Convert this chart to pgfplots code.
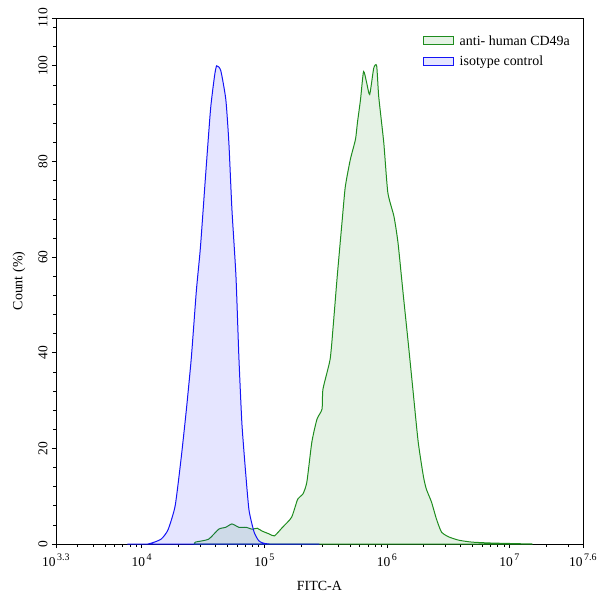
\documentclass[border=0pt]{standalone}
\usepackage{pgfplots}
\pgfplotsset{compat=1.18}
\usepackage{fontspec}
\setmainfont{Liberation Serif}
\definecolor{cgreen}{RGB}{30,140,30}
\definecolor{cblue}{RGB}{20,20,245}
\newcommand{\tp}[1]{10\kern1.5pt\raisebox{0.5em}{\fontsize{10}{10}\selectfont #1}}
\begin{document}
\begin{tikzpicture}
\begin{axis}[
  scale only axis,
  width=528pt, height=527pt,
  xmode=log, log basis x=10,
  xmin=1995.262, xmax=39810717,
  ymin=0, ymax=110,
  xtick={1995.262,1e4,1e5,1e6,1e7,39810717},
  xticklabels={\tp{3.3},\tp{4},\tp{5},\tp{6},\tp{7},\tp{7.6}},
  minor xtick={3000,4000,5000,6000,7000,8000,9000,20000,30000,40000,50000,60000,70000,80000,90000,200000,300000,400000,500000,600000,700000,800000,900000,2e6,3e6,4e6,5e6,6e6,7e6,8e6,9e6,2e7,3e7},
  ytick={0,20,40,60,80,100,110},
  minor ytick={4,8,12,16,24,28,32,36,44,48,52,56,64,68,72,76,84,88,92,96,104,108},
  tick align=outside,
  tick pos=left,
  major tick length=4pt,
  minor tick length=2.5pt,
  tick style={black, line width=0.6pt},
  axis line style={line width=0.8pt},
  /pgf/number format/assume math mode=true,
  ticklabel style={font=\fontsize{13.5}{15}\selectfont},
  yticklabel style={rotate=90, anchor=south, yshift=1pt},
  xticklabel style={yshift=-2pt, anchor=north},
  xlabel={FITC-A}, ylabel={Count (\%)},
  label style={font=\fontsize{14}{16}\selectfont},
  xlabel style={yshift=-7pt},
  ylabel style={yshift=6pt},
  legend style={draw=none, fill=none, at={(0.69,0.975)}, anchor=north west,
    font=\fontsize{14}{16}\selectfont, row sep=5pt,
    legend cell align=left},
  legend image code/.code={\draw[#1, line width=1pt] (0pt,-4pt) rectangle (30pt,4pt); \path (34pt,0pt);},
]
\addplot[draw=cgreen, line width=1pt, smooth, tension=0.35, fill=green!50!black, fill opacity=0.1, draw opacity=1] table[x expr=10^\thisrow{lx}, y=v] {
lx v
4.430 0
4.438 0.4
4.545 1.0
4.628 3.1
4.686 3.5
4.736 4.2
4.793 3.5
4.851 3.5
4.901 3.1
4.942 3.3
4.983 2.7
5.041 2.1
5.083 1.7
5.149 3.5
5.223 5.6
5.273 9.4
5.314 10.4
5.347 12.9
5.388 21.3
5.430 26.1
5.471 28.2
5.479 32.4
5.537 38.6
5.562 45.5
5.595 55.9
5.636 67.8
5.661 74.7
5.702 80.4
5.744 84.6
5.760 88.1
5.785 92.9
5.810 98.8
5.835 96.5
5.860 94.0
5.893 99.5
5.917 100
5.934 93.5
5.975 83.9
6.008 73.5
6.058 68.5
6.091 63.0
6.132 52.6
6.174 42.2
6.215 31.7
6.256 21.3
6.298 14.2
6.322 11.5
6.364 8.8
6.405 5.2
6.446 2.5
6.504 1.5
6.587 0.8
6.694 0.4
6.860 0.2
7.190 0
} \closedcycle;
\addlegendentry{anti- human CD49a}
\addplot[draw=cblue, line width=1pt, smooth, tension=0.35, fill=blue, fill opacity=0.1, draw opacity=1] table[x expr=10^\thisrow{lx}, y=v] {
lx v
3.884 0
4.050 0
4.157 1
4.215 3
4.273 8
4.322 18
4.364 28
4.405 39
4.446 53
4.479 62
4.521 77
4.562 91
4.595 98
4.612 100
4.645 99
4.686 93
4.711 84
4.736 70
4.769 56
4.793 39
4.818 25
4.851 14
4.876 7
4.917 2.5
4.959 0.6
5.041 0
5.450 0
} \closedcycle;
\addlegendentry{isotype control}
\end{axis}
\path ([xshift=-56pt,yshift=-53pt]current axis.south west) rectangle ([xshift=16pt,yshift=18pt]current axis.north east);
\end{tikzpicture}
\end{document}
